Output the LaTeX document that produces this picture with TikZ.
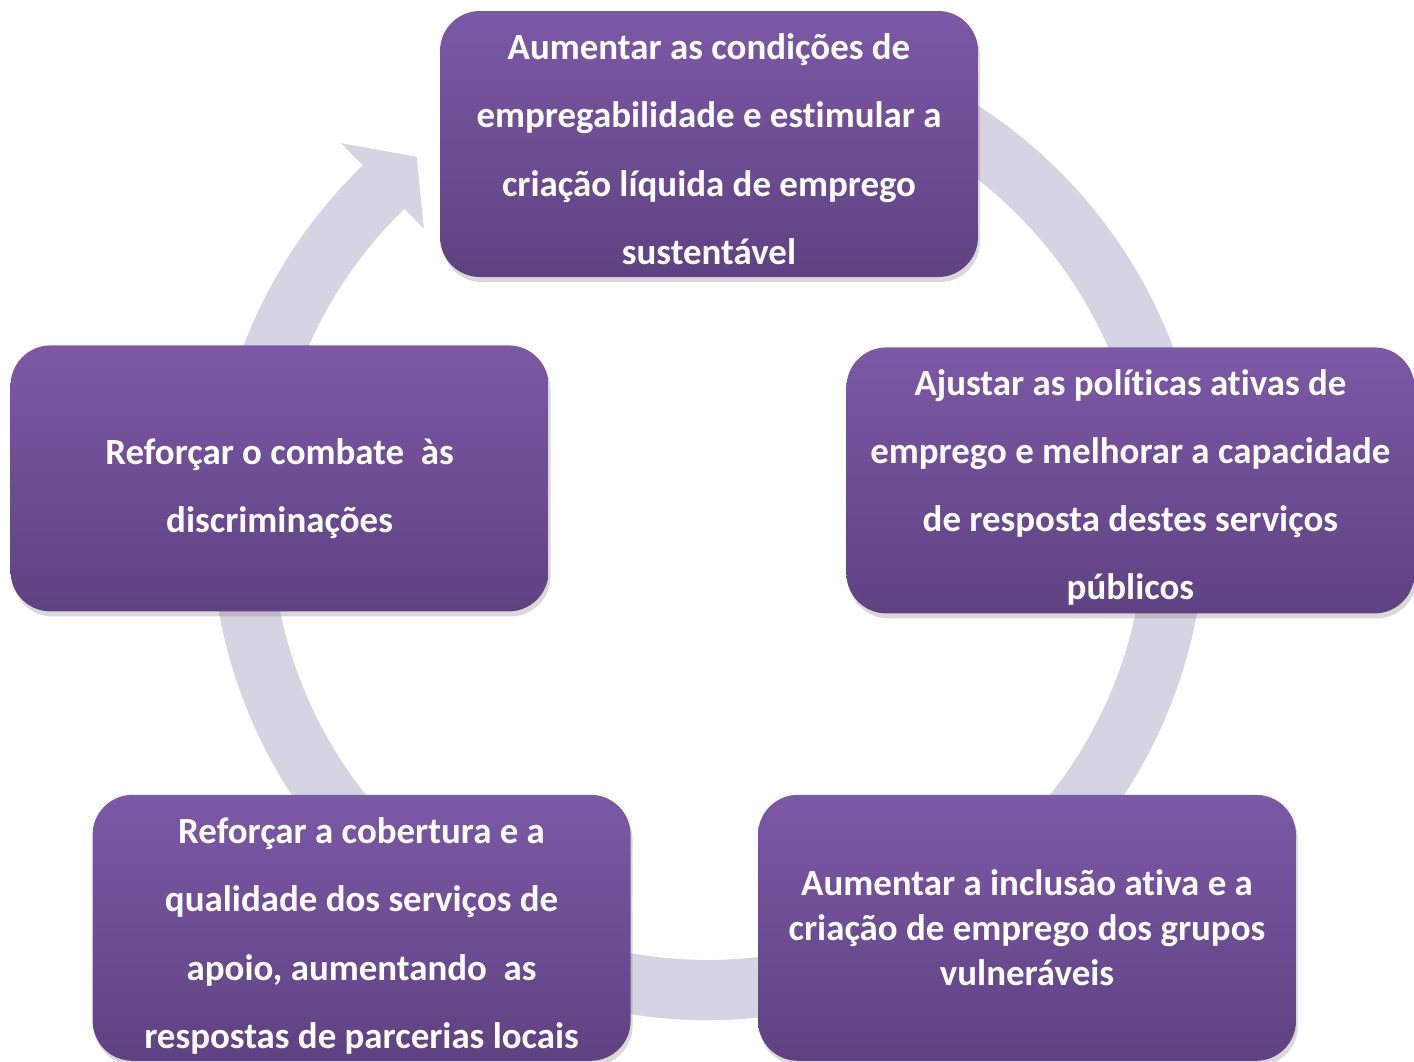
\documentclass[tikz,border=0pt]{standalone}
\usepackage{fontspec}
\setmainfont{Carlito}[Ligatures=NoCommon, Contextuals=NoAlternate]
\usetikzlibrary{positioning,shadows}
\definecolor{roxotopo}{RGB}{124,88,166}
\definecolor{roxobase}{RGB}{95,66,130}
\definecolor{anel}{RGB}{214,211,226}
\newcommand{\ti}{t\kern0pt i}
\newcommand{\folga}[1]{\rule{0pt}{#1}}

\begin{document}
\begin{tikzpicture}[node distance=0.7cm]
\tikzstyle{etapa} = [rectangle, rounded corners=0.4cm, minimum width=5.38cm, minimum height=2.66cm, inner sep=0pt, top color=roxotopo, bottom color=roxobase, text=white, align=center, font=\fontsize{10.5}{19.4}\selectfont\bfseries, drop shadow={opacity=0.3, shadow xshift=0.02cm, shadow yshift=-0.05cm}];
\tikzstyle{seta} = [draw=anel, line width=0.6cm];

\useasboundingbox (0,0) rectangle (14.14,10.61);
\coordinate (centro) at (7.08,5.38);

% anel do ciclo, por tras das etapas
\draw[black!12, line width=0.6cm, yshift=-0.03cm] (centro) ++(100:4.67) arc[start angle=100, end angle=-226.5, radius=4.67];
\draw[seta] (centro) ++(100:4.67) arc[start angle=100, end angle=-226.5, radius=4.67];
\fill[anel, shift={(centro)}] (134:5.28) -- (128.5:4.68) -- (134:4.09) -- cycle;

\node (aumentar) [etapa] at (7.09,9.17) {\folga{10.3pt}Aumentar as condições de\\empregabilidade e es\ti mular a\\criação líquida de emprego\\sustentável};
\node (ajustar) [etapa, minimum width=5.68cm, below right=0.69cm and -1.33cm of aumentar] {\folga{11.4pt}Ajustar as polí\ti cas a\ti vas de\\emprego e melhorar a capacidade\\de resposta destes serviços\\públicos};
\node (combate) [etapa, below left=0.67cm and -1.10cm of aumentar] {\folga{13.1pt}Reforçar o combate\ \ às\\discriminações};
\node (apoio) [etapa, below=1.82cm of combate, xshift=0.82cm] {\folga{12pt}Reforçar a cobertura e a\\qualidade dos serviços de\\apoio, aumentando\ \ as\\respostas de parcerias locais};
\node (inclusao) [etapa, right=1.26cm of apoio, font=\fontsize{10.5}{12.8}\selectfont\bfseries] {Aumentar a inclusão a\ti va e a\\criação de emprego dos grupos\\vulneráveis};
\end{tikzpicture}
\end{document}
